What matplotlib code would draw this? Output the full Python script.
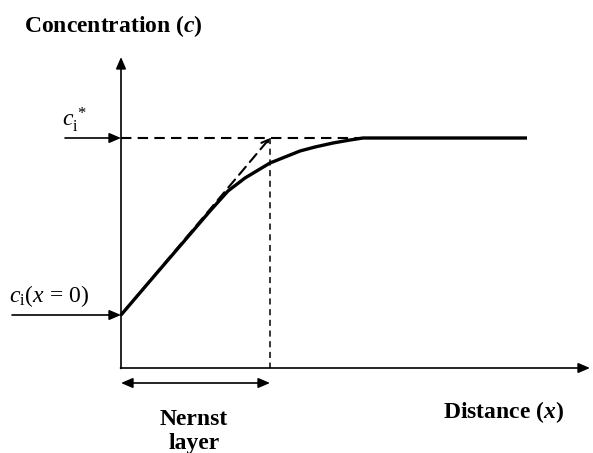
import numpy as np
import matplotlib.pyplot as plt

plt.rcParams['font.family'] = ['Liberation Serif', 'DejaVu Serif']
plt.rcParams['mathtext.fontset'] = 'custom'
plt.rcParams['mathtext.rm'] = 'Liberation Serif'
plt.rcParams['mathtext.it'] = 'Liberation Serif:italic'
plt.rcParams['mathtext.bf'] = 'Liberation Serif:bold'
plt.rcParams['mathtext.bfit'] = 'Liberation Serif:italic:bold'

# schematic in pixel coordinates (y grows downwards)
origin = (121, 368)
x_end = 590
y_top = 57
c_star = 138        # bulk concentration level
c_zero = 315        # surface concentration level
x_nernst = 270      # edge of Nernst layer

# concentration profile
curve_x = [121, 150, 180, 210, 228, 245, 260, 270, 285, 300, 315, 333, 350, 363, 527]
curve_y = [315, 281, 246, 211, 191, 178, 169, 163, 157, 151, 147, 143, 140, 138, 138]

fig = plt.figure(figsize=(5.93, 4.53), dpi=100)
ax = fig.add_axes([0, 0, 1, 1])
ax.set_xlim(0, 593)
ax.set_ylim(453, 0)
ax.axis('off')

head = dict(arrowstyle='-|>,head_length=0.7,head_width=0.3', color='black', lw=1.2,
            shrinkA=0, shrinkB=0)

# axes
ax.annotate('', xy=(origin[0], y_top), xytext=(origin[0], origin[1] + 0.5), arrowprops=head)
ax.annotate('', xy=(x_end, origin[1]), xytext=(origin[0] - 0.5, origin[1]), arrowprops=head)

# dashed guides
ax.plot([origin[0], 362], [c_star, c_star], color='black', lw=1.5, ls=(0, (5, 3)))
ax.plot([x_nernst, x_nernst], [c_star, origin[1]], color='black', lw=1.1, ls=(0, (4, 3)))
ax.annotate('', xy=(x_nernst, c_star), xytext=(origin[0], c_zero),
            arrowprops=dict(arrowstyle='->,head_length=0.5,head_width=0.25', color='black',
                            lw=1.5, ls=(0, (5, 3)), shrinkA=0, shrinkB=0))

# profile
ax.plot(curve_x, curve_y, color='black', lw=2.4, solid_capstyle='butt')

# level arrows
ax.annotate('', xy=(origin[0], c_star), xytext=(65, c_star), arrowprops=head)
ax.annotate('', xy=(origin[0], c_zero), xytext=(12, c_zero), arrowprops=head)

# Nernst layer double arrow
ax.annotate('', xy=(x_nernst, 383), xytext=(origin[0], 383),
            arrowprops=dict(arrowstyle='<|-|>,head_length=0.7,head_width=0.3', color='black',
                            lw=1.2, shrinkA=0, shrinkB=0))

# labels
ax.text(24, 32, r'Concentration ($\mathbfit{c}$)', fontsize=17, fontweight='bold',
        ha='left', va='baseline')
ax.text(443, 418, r'Distance ($\mathbfit{x}$)', fontsize=17, fontweight='bold',
        ha='left', va='baseline')
ax.text(194, 425, 'Nernst', fontsize=17, fontweight='bold', ha='center', va='baseline')
ax.text(194, 449, 'layer', fontsize=17, fontweight='bold', ha='center', va='baseline')
ax.text(62, 126, r'$c_{\mathrm{i}}^{\,*}$', fontsize=17, ha='left', va='baseline')
ax.text(9, 302, r'$c_{\mathrm{i}}(x\,=\,0)$', fontsize=17, ha='left', va='baseline')

fig.savefig('out.png', dpi=100)
